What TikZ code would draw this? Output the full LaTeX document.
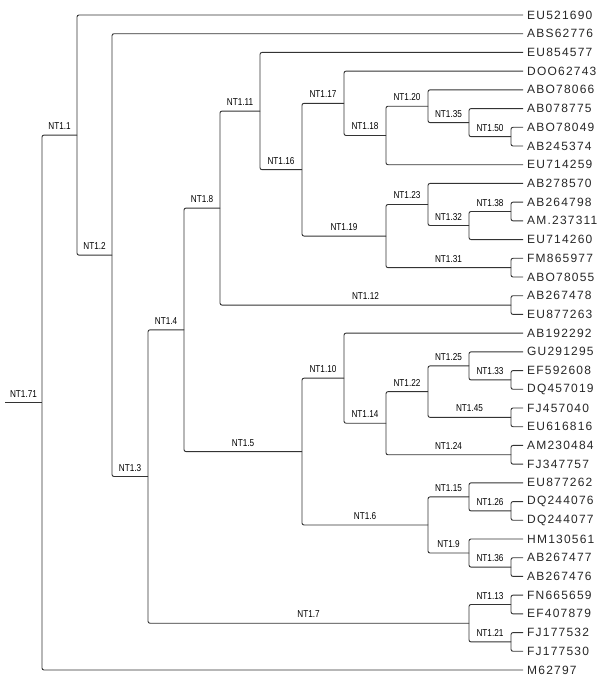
\documentclass[tikz,border=0pt]{standalone}
\usepackage{fontspec}
\setmainfont{Liberation Sans}
\newfontfamily\leaffont[LetterSpace=10]{Liberation Sans}
\newfontfamily\nodefont[FakeStretch=0.82]{Liberation Sans}
\begin{document}
\begin{tikzpicture}[x=1pt,y=-1pt,
  br/.style={draw=black!80, line width=0.9pt, rounded corners=2pt},
  leaf/.style={anchor=west, inner xsep=4pt, inner ysep=0pt, font=\leaffont\fontsize{12}{12}\selectfont, text=black!85},
  lab/.style={anchor=base, inner sep=0pt, yshift=5.5pt, font=\nodefont\fontsize{10}{10}\selectfont, text=black},
  lbl/.style={pos=0.75, lab}]
\useasboundingbox (0,0) rectangle (613,691);
% leaves
\node[leaf] (L1) at (523,15.00) {EU521690};
\node[leaf] (L2) at (523,33.71) {ABS62776};
\node[leaf] (L3) at (523,52.43) {EU854577};
\node[leaf] (L4) at (523,71.14) {DOO62743};
\node[leaf] (L5) at (523,89.86) {ABO78066};
\node[leaf] (L6) at (523,108.57) {AB078775};
\node[leaf] (L7) at (523,127.29) {ABO78049};
\node[leaf] (L8) at (523,146.00) {AB245374};
\node[leaf] (L9) at (523,164.71) {EU714259};
\node[leaf] (L10) at (523,183.43) {AB278570};
\node[leaf] (L11) at (523,202.14) {AB264798};
\node[leaf] (L12) at (523,220.86) {AM.237311};
\node[leaf] (L13) at (523,239.57) {EU714260};
\node[leaf] (L14) at (523,258.29) {FM865977};
\node[leaf] (L15) at (523,277.00) {ABO78055};
\node[leaf] (L16) at (523,295.71) {AB267478};
\node[leaf] (L17) at (523,314.43) {EU877263};
\node[leaf] (L18) at (523,333.14) {AB192292};
\node[leaf] (L19) at (523,351.86) {GU291295};
\node[leaf] (L20) at (523,370.57) {EF592608};
\node[leaf] (L21) at (523,389.29) {DQ457019};
\node[leaf] (L22) at (523,408.00) {FJ457040};
\node[leaf] (L23) at (523,426.71) {EU616816};
\node[leaf] (L24) at (523,445.43) {AM230484};
\node[leaf] (L25) at (523,464.14) {FJ347757};
\node[leaf] (L26) at (523,482.86) {EU877262};
\node[leaf] (L27) at (523,501.57) {DQ244076};
\node[leaf] (L28) at (523,520.29) {DQ244077};
\node[leaf] (L29) at (523,539.00) {HM130561};
\node[leaf] (L30) at (523,557.71) {AB267477};
\node[leaf] (L31) at (523,576.43) {AB267476};
\node[leaf] (L32) at (523,595.14) {FN665659};
\node[leaf] (L33) at (523,613.86) {EF407879};
\node[leaf] (L34) at (523,632.57) {FJ177532};
\node[leaf] (L35) at (523,651.29) {FJ177530};
\node[leaf] (L36) at (523,670.00) {M62797};
% internal nodes
\coordinate (root) at (5,402.53);
\coordinate (n71) at (42,402.53);
\coordinate (n1) at (77,135.06);
\coordinate (n2) at (112,255.12);
\coordinate (n3) at (148,476.52);
\coordinate (n4) at (184,329.82);
\coordinate (n8) at (220,208.06);
\coordinate (n11) at (260,111.06);
\coordinate (n16) at (302,169.68);
\coordinate (n17) at (344,103.31);
\coordinate (n18) at (386,135.47);
\coordinate (n20) at (428,106.23);
\coordinate (n35) at (469,122.61);
\coordinate (n50) at (511,136.65);
\coordinate (n19) at (386,236.06);
\coordinate (n23) at (428,204.48);
\coordinate (n32) at (469,225.54);
\coordinate (n38) at (511,211.50);
\coordinate (n31) at (511,267.65);
\coordinate (n12) at (511,305.07);
\coordinate (n5) at (302,451.58);
\coordinate (n10) at (344,378.18);
\coordinate (n14) at (386,423.21);
\coordinate (n22) at (428,391.63);
\coordinate (n25) at (469,365.90);
\coordinate (n33) at (511,379.93);
\coordinate (n45) at (511,417.36);
\coordinate (n24) at (511,454.79);
\coordinate (n6) at (428,524.97);
\coordinate (n15) at (469,496.90);
\coordinate (n26) at (511,510.93);
\coordinate (n9) at (469,553.04);
\coordinate (n36) at (511,567.07);
\coordinate (n7) at (469,623.22);
\coordinate (n13) at (511,604.50);
\coordinate (n21) at (511,641.93);
% root stub
\draw[br] (root) -- node[lab]{NT1.71} (n71);
% NT1.71
\draw[br] (n71) |- node[lbl]{NT1.1} (n1);
\draw[br] (n71) |- (L36.west);
% NT1.1
\draw[br] (n1) |- (L1.west);
\draw[br] (n1) |- node[lbl]{NT1.2} (n2);
% NT1.2
\draw[br] (n2) |- (L2.west);
\draw[br] (n2) |- node[lbl]{NT1.3} (n3);
% NT1.3
\draw[br] (n3) |- node[lbl]{NT1.4} (n4);
\draw[br] (n3) |- node[lbl]{NT1.7} (n7);
% NT1.4
\draw[br] (n4) |- node[lbl]{NT1.8} (n8);
\draw[br] (n4) |- node[lbl]{NT1.5} (n5);
% NT1.8
\draw[br] (n8) |- node[lbl]{NT1.11} (n11);
\draw[br] (n8) |- node[lbl]{NT1.12} (n12);
% NT1.11
\draw[br] (n11) |- (L3.west);
\draw[br] (n11) |- node[lbl]{NT1.16} (n16);
% NT1.16
\draw[br] (n16) |- node[lbl]{NT1.17} (n17);
\draw[br] (n16) |- node[lbl]{NT1.19} (n19);
% NT1.17
\draw[br] (n17) |- (L4.west);
\draw[br] (n17) |- node[lbl]{NT1.18} (n18);
% NT1.18
\draw[br] (n18) |- node[lbl]{NT1.20} (n20);
\draw[br] (n18) |- (L9.west);
% NT1.20
\draw[br] (n20) |- (L5.west);
\draw[br] (n20) |- node[lbl]{NT1.35} (n35);
% NT1.35
\draw[br] (n35) |- (L6.west);
\draw[br] (n35) |- node[lbl]{NT1.50} (n50);
% NT1.50
\draw[br] (n50) |- (L7.west);
\draw[br] (n50) |- (L8.west);
% NT1.19
\draw[br] (n19) |- node[lbl]{NT1.23} (n23);
\draw[br] (n19) |- node[lbl]{NT1.31} (n31);
% NT1.23
\draw[br] (n23) |- (L10.west);
\draw[br] (n23) |- node[lbl]{NT1.32} (n32);
% NT1.32
\draw[br] (n32) |- node[lbl]{NT1.38} (n38);
\draw[br] (n32) |- (L13.west);
% NT1.38
\draw[br] (n38) |- (L11.west);
\draw[br] (n38) |- (L12.west);
% NT1.31
\draw[br] (n31) |- (L14.west);
\draw[br] (n31) |- (L15.west);
% NT1.12
\draw[br] (n12) |- (L16.west);
\draw[br] (n12) |- (L17.west);
% NT1.5
\draw[br] (n5) |- node[lbl]{NT1.10} (n10);
\draw[br] (n5) |- node[lbl]{NT1.6} (n6);
% NT1.10
\draw[br] (n10) |- (L18.west);
\draw[br] (n10) |- node[lbl]{NT1.14} (n14);
% NT1.14
\draw[br] (n14) |- node[lbl]{NT1.22} (n22);
\draw[br] (n14) |- node[lbl]{NT1.24} (n24);
% NT1.22
\draw[br] (n22) |- node[lbl]{NT1.25} (n25);
\draw[br] (n22) |- node[lbl]{NT1.45} (n45);
% NT1.25
\draw[br] (n25) |- (L19.west);
\draw[br] (n25) |- node[lbl]{NT1.33} (n33);
% NT1.33
\draw[br] (n33) |- (L20.west);
\draw[br] (n33) |- (L21.west);
% NT1.45
\draw[br] (n45) |- (L22.west);
\draw[br] (n45) |- (L23.west);
% NT1.24
\draw[br] (n24) |- (L24.west);
\draw[br] (n24) |- (L25.west);
% NT1.6
\draw[br] (n6) |- node[lbl]{NT1.15} (n15);
\draw[br] (n6) |- node[lbl]{NT1.9} (n9);
% NT1.15
\draw[br] (n15) |- (L26.west);
\draw[br] (n15) |- node[lbl]{NT1.26} (n26);
% NT1.26
\draw[br] (n26) |- (L27.west);
\draw[br] (n26) |- (L28.west);
% NT1.9
\draw[br] (n9) |- (L29.west);
\draw[br] (n9) |- node[lbl]{NT1.36} (n36);
% NT1.36
\draw[br] (n36) |- (L30.west);
\draw[br] (n36) |- (L31.west);
% NT1.7
\draw[br] (n7) |- node[lbl]{NT1.13} (n13);
\draw[br] (n7) |- node[lbl]{NT1.21} (n21);
% NT1.13
\draw[br] (n13) |- (L32.west);
\draw[br] (n13) |- (L33.west);
% NT1.21
\draw[br] (n21) |- (L34.west);
\draw[br] (n21) |- (L35.west);
\end{tikzpicture}
\end{document}
